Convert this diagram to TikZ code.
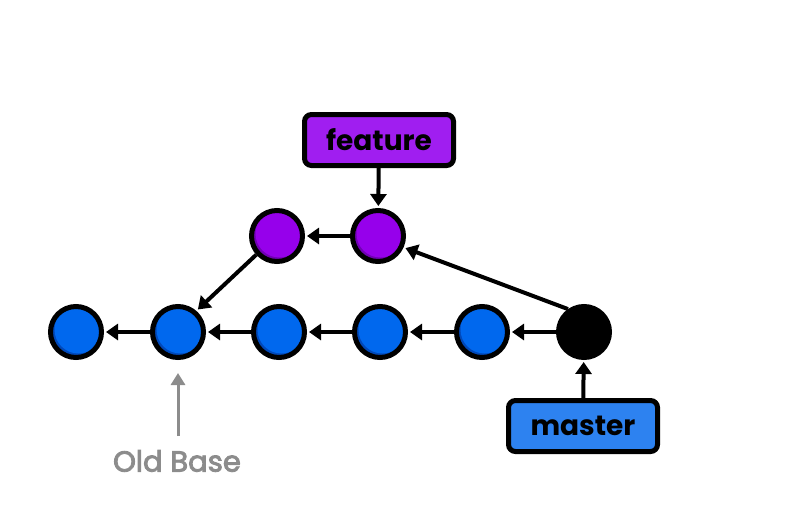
\documentclass[tikz,border=0pt]{standalone}
\usepackage{fontspec}
\setmainfont{Poppins}
\newfontfamily\oldfont[FakeBold=3]{Poppins}
\usetikzlibrary{arrows.meta}
\definecolor{pfill}{RGB}{150,0,235}
\definecolor{pdark}{RGB}{112,0,180}
\definecolor{bfill}{RGB}{0,104,238}
\definecolor{bdark}{RGB}{0,72,185}
\definecolor{pbox}{RGB}{160,30,240}
\definecolor{mbox}{RGB}{45,130,240}
\definecolor{oldgray}{RGB}{140,140,140}
\tikzset{
  commit/.style n args={2}{circle, minimum size=51pt, inner sep=0pt, draw=black, line width=5pt,
    path picture={
      \fill[#2] (path picture bounding box.center) circle (26pt);
      \fill[#1] ([shift={(2.5pt,2.5pt)}]path picture bounding box.center) circle (24pt);
    }},
  pcommit/.style={commit={pfill}{pdark}},
  bcommit/.style={commit={bfill}{bdark}},
  headc/.style={circle, minimum size=51pt, inner sep=0pt, draw=black, line width=5pt, fill=black},
  label box/.style={draw=black, line width=5pt, rounded corners=7pt, minimum width=149pt,
    minimum height=51pt, inner sep=0pt, font=\fontsize{28}{32}\selectfont\bfseries},
  arr/.style={line width=4pt, -{Triangle[width=16pt,length=12pt]}, shorten >=2pt},
  garr/.style={line width=3pt, draw=oldgray, -{Triangle[width=14pt,length=12pt]}}
}
\begin{document}
\begin{tikzpicture}[x=1pt,y=-1pt]
\useasboundingbox (0,0) rectangle (800,509);
\node[bcommit] (b1) at (76,332) {};
\node[bcommit] (b2) at (178,332) {};
\node[bcommit] (b3) at (279,332) {};
\node[bcommit] (b4) at (380,332) {};
\node[bcommit] (b5) at (482,332) {};
\node[headc] (h) at (584,332) {};
\node[pcommit] (p1) at (277,236) {};
\node[pcommit] (p2) at (378,236) {};
\node[label box, fill=pbox] (feat) at (379,140) {feature};
\node[label box, fill=mbox] (mast) at (583,426) {master};
\node[text=oldgray, font=\fontsize{29}{32}\selectfont\oldfont] (old) at (177,461) {Old Base};
\coordinate (oldtop) at (178,373);
\coordinate (oldbot) at (178,436);
\draw[arr] (b2) -- (b1);
\draw[arr] (b3) -- (b2);
\draw[arr] (b4) -- (b3);
\draw[arr] (b5) -- (b4);
\draw[arr] (h) -- (b5);
\draw[arr] (p2) -- (p1);
\draw[arr] (p1.-138) -- (b2.49);
\draw[arr] (h.125) -- (p2.-24);
\draw[arr] (feat) -- (p2);
\draw[arr] (mast) -- (h);
\draw[garr] (oldbot) -- (oldtop);
\end{tikzpicture}
\end{document}
